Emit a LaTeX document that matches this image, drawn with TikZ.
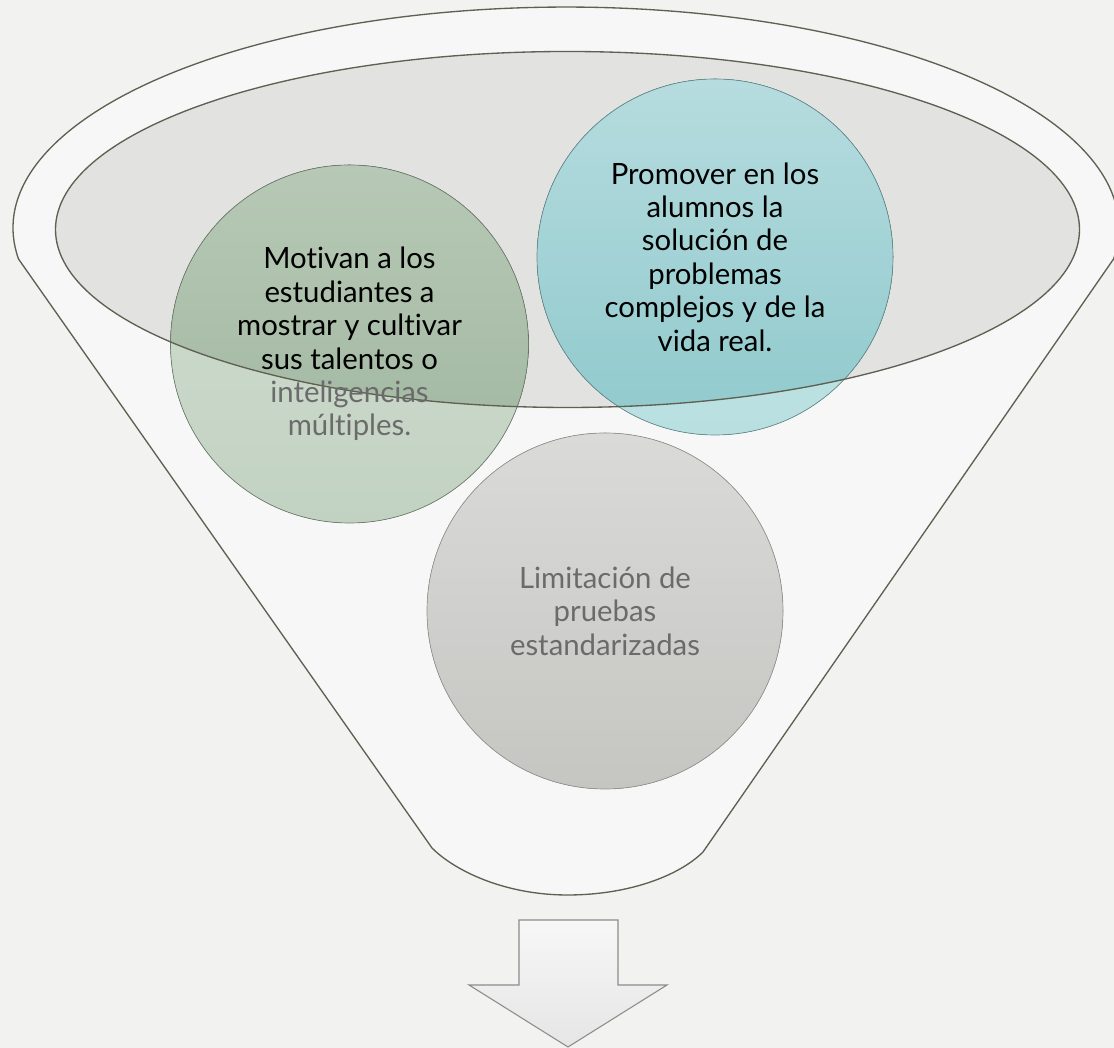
\documentclass[tikz,border=0pt]{standalone}
\usepackage{fontspec}
\setsansfont[Ligatures=NoCommon]{Lato}

\definecolor{fondo}{HTML}{F2F2F0}
\definecolor{embudo}{HTML}{F7F7F7}
\definecolor{borde}{HTML}{5F5F52}
\definecolor{elipse}{HTML}{E2E2E0}
\definecolor{verdeA}{HTML}{D2DED2}
\definecolor{verdeB}{HTML}{C2D2C2}
\definecolor{verdeC}{HTML}{B7C9B6}
\definecolor{verdeD}{HTML}{9DB49C}
\definecolor{turqA}{HTML}{C4E4E6}
\definecolor{turqB}{HTML}{B9E0E1}
\definecolor{turqC}{HTML}{B6DCDF}
\definecolor{turqD}{HTML}{8FC9CC}
\definecolor{grisA}{HTML}{DADAD9}
\definecolor{grisB}{HTML}{C5C6C1}
\definecolor{textogris}{HTML}{6B6B6B}

\begin{document}
\begin{tikzpicture}[x=0.75pt, y=0.75pt, font=\sffamily,
		contorno/.style={draw=borde, line width=1pt},
		burbuja/.style={line width=0.5pt},
		texto/.style={align=center, inner sep=0pt, font=\sffamily\fontsize{22}{25.1}\selectfont}]
		
		% --- Fondo
		\fill[fondo] (0,0) rectangle (1114,1048);
		\useasboundingbox (0,0) rectangle (1114,1048);
		
		% Centros de los circulos
		\coordinate (cVerde) at (349.5,704);
		\coordinate (cTurq) at (715,791);
		\coordinate (cGris) at (605,437);
		\coordinate (cElipse) at (567.5,818.5);
		
		% --- Cuerpo del embudo
		\draw[contorno, fill=embudo] (18.5,789) arc[start angle=188.05, end angle=-8.05, x radius=553, y radius=221]
			-- (703,196) .. controls (680,173) and (630,153) .. (567.5,153)
			.. controls (505,153) and (455,177) .. (432,200) -- cycle;
		
		% Boca del embudo (elipse interior)
		\fill[elipse] (cElipse) ellipse[x radius=512, y radius=178];
		
		% --- Circulos (parte clara)
		\fill[top color=verdeA, bottom color=verdeB] (cVerde) circle[radius=179];
		\fill[top color=turqA, bottom color=turqB] (cTurq) circle[radius=178];
		\fill[top color=grisA, bottom color=grisB] (cGris) circle[radius=178];
		
		% Parte oscura dentro de la elipse
		\begin{scope}
			\clip (cElipse) ellipse[x radius=512, y radius=178];
			\fill[top color=verdeC, bottom color=verdeD] (cVerde) circle[radius=179];
			\fill[top color=turqC, bottom color=turqD] (cTurq) circle[radius=178];
		\end{scope}
		
		% Bordes
		\draw[burbuja, draw=verdeD!70!black] (cVerde) circle[radius=179];
		\draw[burbuja, draw=turqD!70!black] (cTurq) circle[radius=178];
		\draw[burbuja, draw=grisB!75!black] (cGris) circle[radius=178];
		\draw[contorno] (cElipse) ellipse[x radius=512, y radius=178];
		
		% --- Textos
		\node[texto] (motivan) at (cVerde) {Motivan a los\\ estudiantes a\\ mostrar y cultivar\\ sus talentos o\\
			\textcolor{textogris}{inteligencias}\\ \textcolor{textogris}{múltiples.}};
		\node[texto] (promover) at (cTurq) {Promover en los\\ alumnos la\\ solución de\\ problemas\\ complejos y de la\\ vida real.};
		\node[texto, text=textogris] (limitacion) at (cGris) {Limitación de\\ pruebas\\ estandarizadas};
		
		% --- Flecha hacia abajo
		\draw[draw=black!45, line width=0.8pt, top color=embudo, bottom color=black!10]
			(519,128) -- (618,128) -- (618,63) -- (667,63) -- (568,1) -- (469,63) -- (519,63) -- cycle;
		
	\end{tikzpicture}
\end{document}
